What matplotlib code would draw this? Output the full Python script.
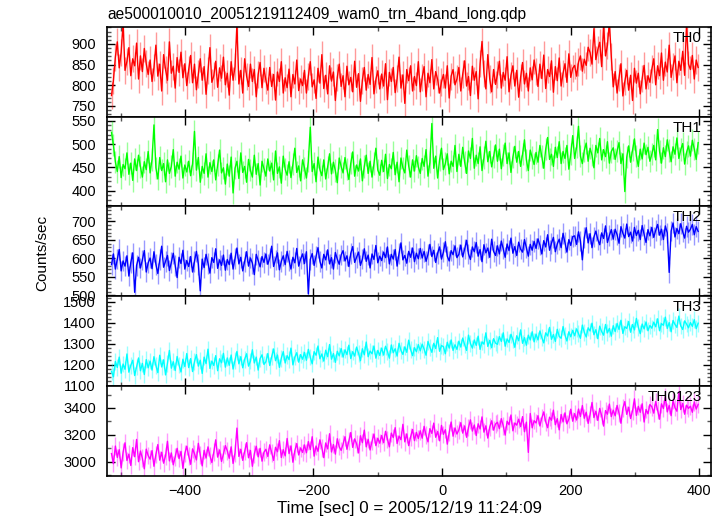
import numpy as np
import matplotlib
matplotlib.use("Agg")
import matplotlib.pyplot as plt
from matplotlib.ticker import MultipleLocator

plt.rcParams['font.family'] = ['Liberation Sans', 'DejaVu Sans']

TITLE = "ae500010010_20051219112409_wam0_trn_4band_long.qdp"
XLABEL = "Time [sec] 0 = 2005/12/19 11:24:09"
YLABEL = "Counts/sec"

# time bins (s, relative to 2005/12/19 11:24:09)
TIME_START = -514
TIME_BIN = 3

band_names = ["TH0", "TH1", "TH2", "TH3", "TH0123"]
band_colors = ["#ff0000", "#00ff00", "#0000ff", "#00ffff", "#ff00ff"]
band_errors = [33, 24, 28, 40, 65]
band_ylims = [(723, 941), (367, 558), (498, 742), (1098, 1528), (2896, 3563)]
band_major = [50, 50, 50, 100, 200]
band_minor = [10, 10, 10, 20, 100]

th0 = [
 775, 812, 868, 905, 842, 880, 951, 836, 858, 891, 823, 864, 847, 902, 815, 871, 833, 889, 852, 826,
 861, 809, 843, 897, 822, 851, 786, 874, 838, 812, 905, 829, 846, 793, 867, 831, 880, 818, 852, 799,
 838, 872, 806, 851, 789, 827, 864, 812, 845, 778, 836, 891, 807, 823, 858, 795, 842, 817, 868, 801,
 829, 776, 857, 812, 845, 948, 803, 836, 781, 864, 822, 797, 851, 809, 838, 772, 826, 855, 794, 841,
 812, 788, 843, 797, 826, 764, 832, 809, 857, 781, 818, 794, 839, 772, 826, 803, 861, 787, 815, 799,
 836, 781, 822, 857, 796, 813, 768, 841, 805, 874, 792, 824, 779, 847, 810, 832, 763, 819, 851, 797,
 823, 772, 846, 801, 819, 784, 858, 795, 828, 761, 812, 843, 788, 826, 802, 867, 779, 814, 835, 791,
 827, 798, 852, 765, 831, 809, 843, 782, 816, 868, 793, 825, 756, 838, 811, 847, 786, 821, 799, 857,
 784, 819, 845, 772, 829, 806, 862, 791, 833, 814, 781, 808, 826, 793, 847, 769, 822, 838, 801, 815,
 843, 786, 827, 859, 798, 821, 775, 846, 812, 833, 767, 852, 906, 829, 791, 874, 815, 784, 838, 802,
 826, 858, 793, 831, 812, 869, 784, 824, 847, 798, 836, 771, 819, 855, 803, 829, 786, 842, 813, 861,
 834, 797, 851, 816, 873, 792, 838, 821, 859, 783, 845, 811, 866, 798, 829, 852, 807, 876, 819, 841,
 848, 822, 856, 871, 834, 863, 848, 892, 879, 851, 937, 862, 886, 904, 845, 946, 871, 897, 953, 869,
 796, 833, 781, 818, 852, 774, 809, 836, 788, 824, 763, 841, 805, 829, 779, 816, 848, 791, 823, 807,
 839, 864, 801, 847, 823, 878, 812, 856, 832, 897, 819, 845, 871, 806, 858, 836, 882, 824, 949, 851,
 838, 872, 815, 861, 843]

th1 = [
 525, 498, 462, 441, 473, 428, 456, 447, 481, 435, 459, 422, 468, 443, 476, 451, 429, 462, 445, 484,
 438, 467, 541, 449, 425, 471, 443, 458, 419, 466, 437, 452, 488, 431, 461, 446, 474, 427, 455, 440,
 463, 432, 458, 527, 444, 471, 418, 452, 437, 479, 429, 460, 441, 466, 423, 455, 487, 438, 449, 414,
 457, 431, 472, 395, 448, 463, 426, 481, 439, 452, 418, 467, 444, 429, 476, 435, 458, 412, 463, 447,
 431, 468, 442, 459, 423, 485, 437, 451, 416, 474, 446, 433, 462, 428, 457, 491, 439, 453, 421, 466,
 449, 427, 463, 536, 441, 458, 419, 472, 445, 432, 466, 425, 451, 479, 436, 461, 443, 417, 470, 452,
 438, 471, 446, 424, 459, 483, 431, 455, 442, 468, 421, 452, 476, 437, 463, 429, 458, 491, 444, 433,
 465, 441, 478, 426, 456, 447, 482, 434, 461, 419, 470, 449, 438, 487, 453, 429, 466, 442, 475, 451,
 437, 469, 452, 488, 431, 461, 544, 448, 474, 427, 466, 491, 445, 458, 479, 436, 463, 452, 497, 441,
 478, 452, 493, 461, 437, 485, 469, 512, 448, 476, 458, 494, 443, 471, 506, 462, 484, 451, 473, 498,
 463, 489, 447, 476, 502, 458, 481, 439, 472, 495, 461, 484, 452, 478, 509, 466, 443, 487, 471, 456,
 482, 461, 497, 473, 448, 489, 514, 467, 478, 452, 493, 471, 505, 458, 484, 469, 497, 446, 479, 518,
 469, 493, 538, 474, 458, 486, 502, 463, 491, 476, 449, 497, 481, 512, 466, 488, 473, 505, 459, 484,
 492, 467, 485, 503, 458, 479, 398, 472, 496, 461, 487, 511, 474, 452, 489, 468, 502, 477, 493, 463,
 478, 497, 466, 531, 484, 459, 492, 473, 509, 486, 462, 494, 478, 513, 469, 488, 501, 457, 482, 496,
 474, 508, 489, 467, 503]

th2 = [
 583, 612, 571, 598, 624, 566, 593, 579, 607, 552, 589, 615, 508, 581, 603, 574, 596, 621, 563, 588,
 601, 572, 618, 584, 559, 597, 633, 576, 592, 608, 567, 589, 614, 581, 548, 603, 586, 622, 571, 594,
 578, 605, 563, 592, 619, 584, 512, 598, 575, 611, 587, 560, 602, 589, 626, 573, 596, 581, 609, 568,
 597, 583, 614, 571, 599, 628, 585, 603, 566, 592, 618, 579, 601, 587, 556, 611, 594, 577, 605, 589,
 612, 584, 601, 633, 578, 596, 615, 569, 592, 607, 583, 619, 594, 571, 603, 588, 627, 579, 598, 612,
 586, 618, 504, 597, 613, 581, 605, 629, 592, 574, 611, 596, 623, 585, 602, 571, 616, 598, 584, 609,
 621, 593, 607, 578, 614, 632, 589, 603, 617, 581, 598, 626, 592, 609, 574, 612, 597, 635, 588, 606,
 594, 617, 602, 631, 585, 611, 598, 624, 579, 613, 642, 596, 608, 587, 619, 603, 628, 591, 614, 599,
 627, 601, 619, 592, 611, 638, 605, 622, 589, 614, 631, 598, 617, 645, 606, 593, 621, 610, 634, 602,
 611, 636, 604, 625, 649, 612, 597, 631, 618, 643, 606, 624, 591, 637, 615, 628, 603, 652, 619, 608,
 634, 612, 647, 626, 603, 639, 621, 655, 614, 632, 608, 644, 625, 617, 651, 629, 606, 638, 622, 646,
 627, 653, 636, 612, 648, 631, 664, 622, 641, 657, 618, 639, 652, 629, 668, 643, 617, 651, 635, 659,
 661, 638, 672, 647, 596, 656, 683, 642, 667, 629, 658, 674, 651, 637, 669, 654, 688, 643, 662, 678,
 652, 679, 664, 641, 686, 668, 655, 693, 659, 671, 647, 684, 662, 676, 651, 689, 665, 643, 678, 661,
 684, 657, 676, 692, 663, 679, 651, 688, 669, 562, 674, 696, 658, 681, 667, 694, 672, 655, 687, 671,
 679, 692, 664, 686, 673]

th3 = [
 1168, 1142, 1215, 1187, 1236, 1159, 1203, 1178, 1251, 1164, 1197, 1221, 1148, 1189, 1232, 1171, 1206, 1153, 1224, 1185,
 1217, 1174, 1238, 1196, 1162, 1245, 1189, 1223, 1151, 1207, 1268, 1183, 1214, 1172, 1239, 1198, 1165, 1226, 1191, 1253,
 1186, 1229, 1167, 1214, 1248, 1193, 1221, 1158, 1236, 1205, 1274, 1182, 1217, 1196, 1243, 1171, 1228, 1209, 1254, 1188,
 1232, 1197, 1246, 1179, 1221, 1263, 1204, 1238, 1185, 1226, 1252, 1193, 1217, 1271, 1208, 1236, 1174, 1229, 1247, 1201,
 1214, 1253, 1196, 1238, 1275, 1219, 1246, 1187, 1231, 1262, 1208, 1243, 1224, 1279, 1199, 1236, 1257, 1212, 1248, 1226,
 1258, 1221, 1273, 1236, 1204, 1262, 1245, 1289, 1228, 1251, 1217, 1269, 1238, 1296, 1226, 1253, 1211, 1264, 1242, 1277,
 1236, 1271, 1248, 1293, 1229, 1262, 1241, 1284, 1255, 1219, 1276, 1247, 1308, 1238, 1265, 1252, 1289, 1231, 1268, 1244,
 1279, 1246, 1288, 1263, 1231, 1294, 1257, 1276, 1241, 1302, 1268, 1249, 1285, 1259, 1317, 1272, 1243, 1281, 1262, 1296,
 1266, 1298, 1274, 1245, 1311, 1283, 1259, 1302, 1277, 1329, 1264, 1291, 1286, 1252, 1307, 1279, 1318, 1268, 1295, 1273,
 1312, 1284, 1327, 1296, 1268, 1341, 1301, 1279, 1318, 1292, 1336, 1273, 1309, 1298, 1352, 1287, 1316, 1281, 1324, 1303,
 1297, 1334, 1311, 1352, 1288, 1323, 1306, 1345, 1319, 1283, 1338, 1314, 1366, 1302, 1329, 1293, 1341, 1318, 1357, 1309,
 1346, 1318, 1361, 1329, 1304, 1352, 1337, 1378, 1321, 1344, 1311, 1369, 1335, 1326, 1382, 1341, 1313, 1357, 1333, 1364,
 1338, 1371, 1349, 1326, 1389, 1355, 1332, 1376, 1361, 1398, 1343, 1367, 1324, 1384, 1358, 1341, 1392, 1352, 1373, 1336,
 1386, 1358, 1397, 1368, 1412, 1349, 1381, 1373, 1406, 1355, 1392, 1366, 1421, 1379, 1348, 1394, 1371, 1404, 1362, 1387,
 1374, 1403, 1381, 1419, 1362, 1396, 1388, 1427, 1373, 1401, 1357, 1411, 1392, 1378, 1432, 1385, 1368, 1409, 1394, 1376,
 1401, 1383, 1415, 1372, 1398]

th0123 = [
 3062, 2987, 3118, 3034, 3091, 2956, 3073, 3142, 3011, 3058, 2974, 3106, 3039, 3167, 3002, 3081, 3028, 2949, 3095, 3047,
 3021, 3084, 2968, 3057, 3129, 3013, 3072, 2991, 3046, 3153, 3008, 3067, 2979, 3038, 3101, 3025, 3078, 2952, 3063, 3117,
 3044, 2983, 3097, 3062, 3015, 3138, 3051, 2971, 3086, 3029, 3112, 3047, 2996, 3073, 3164, 3036, 3089, 3004, 3058, 3121,
 3083, 3027, 3112, 2989, 3068, 3251, 3041, 3094, 3012, 3076, 3143, 3031, 3085, 2968, 3059, 3117, 3038, 3101, 3006, 3072,
 3094, 3041, 3127, 3068, 3012, 3109, 3076, 3158, 3033, 3091, 3045, 3174, 3062, 3119, 2998, 3083, 3136, 3052, 3104, 3071,
 3126, 3068, 3151, 3092, 3187, 3043, 3118, 3079, 3164, 3105, 3032, 3141, 3097, 3209, 3074, 3129, 3058, 3172, 3113, 3086,
 3132, 3187, 3094, 3156, 3218, 3108, 3171, 3135, 3067, 3194, 3143, 3236, 3112, 3168, 3089, 3152, 3207, 3121, 3176, 3139,
 3196, 3143, 3227, 3168, 3112, 3214, 3181, 3254, 3137, 3192, 3165, 3279, 3149, 3208, 3121, 3186, 3241, 3158, 3219, 3174,
 3231, 3176, 3264, 3198, 3149, 3247, 3212, 3288, 3183, 3226, 3157, 3271, 3205, 3239, 3132, 3218, 3296, 3191, 3252, 3207,
 3238, 3291, 3214, 3267, 3183, 3256, 3312, 3229, 3274, 3196, 3283, 3245, 3334, 3221, 3268, 3177, 3259, 3305, 3236, 3281,
 3294, 3247, 3321, 3268, 3199, 3302, 3276, 3348, 3231, 3289, 3273, 3317, 3262, 3336, 3224, 3295, 3071, 3359, 3253, 3306,
 3289, 3343, 3267, 3326, 3371, 3298, 3254, 3332, 3309, 3384, 3276, 3321, 3238, 3352, 3297, 3364, 3283, 3318, 3391, 3302,
 3358, 3311, 3392, 3337, 3418, 3324, 3369, 3286, 3352, 3441, 3329, 3376, 3308, 3397, 3343, 3266, 3381, 3354, 3429, 3336,
 3384, 3342, 3419, 3361, 3287, 3398, 3447, 3353, 3406, 3322, 3379, 3468, 3345, 3412, 3368, 3431, 3296, 3389, 3357, 3426,
 3409, 3362, 3448, 3384, 3317, 3431, 3396, 3482, 3371, 3419, 3343, 3457, 3402, 3376, 3519, 3388, 3434, 3354, 3421, 3397,
 3413, 3368, 3445, 3392, 3427]

series = [th0, th1, th2, th3, th0123]
XLIM = (-521, 418)

W, H = 724, 516
fig = plt.figure(figsize=(W / 100, H / 100), dpi=100)

left_px, right_px = 107, 711
edges_px = [27, 117, 206, 296, 386, 476]

axes = []
for i, (name, color, err, ylim, vals) in enumerate(
        zip(band_names, band_colors, band_errors, band_ylims, series)):
    top, bot = edges_px[i], edges_px[i + 1]
    ax = fig.add_axes([left_px / W, 1 - bot / H, (right_px - left_px) / W, (bot - top) / H])
    y = np.asarray(vals, dtype=float)
    t = TIME_START + TIME_BIN * np.arange(len(y))
    ax.vlines(t, y - err, y + err, colors=color, alpha=0.4, lw=1.0)
    ax.plot(t, y, color=color, lw=1.0)
    ax.set_xlim(*XLIM)
    ax.set_ylim(*ylim)
    ax.yaxis.set_major_locator(MultipleLocator(band_major[i]))
    ax.yaxis.set_minor_locator(MultipleLocator(band_minor[i]))
    ax.xaxis.set_major_locator(MultipleLocator(200))
    ax.xaxis.set_minor_locator(MultipleLocator(100))
    ax.tick_params(which='both', direction='in', top=True, right=True,
                   labelsize=10.5, width=1.0, colors='black')
    ax.tick_params(which='major', length=6, pad=8)
    ax.tick_params(which='minor', length=3, color='#555555')
    ax.tick_params(axis='x', which='major', pad=6)
    for s in ax.spines.values():
        s.set_linewidth(1.2)
    ax.text(0.985, 0.955, name, transform=ax.transAxes, ha='right', va='top',
            fontsize=11, color='black')
    if i < len(band_names) - 1:
        ax.tick_params(labelbottom=False)
    axes.append(ax)

fig.text(left_px / W, 1 - 14 / H, TITLE, ha='left', va='center', fontsize=11.2)
fig.text(0.5 * (left_px + right_px) / W, 1 - 508 / H, XLABEL, ha='center', va='center', fontsize=12.2)
fig.text(42 / W, 1 - 253 / H, YLABEL, ha='center', va='center', rotation=90, fontsize=11)

fig.savefig("out.png", dpi=100)
